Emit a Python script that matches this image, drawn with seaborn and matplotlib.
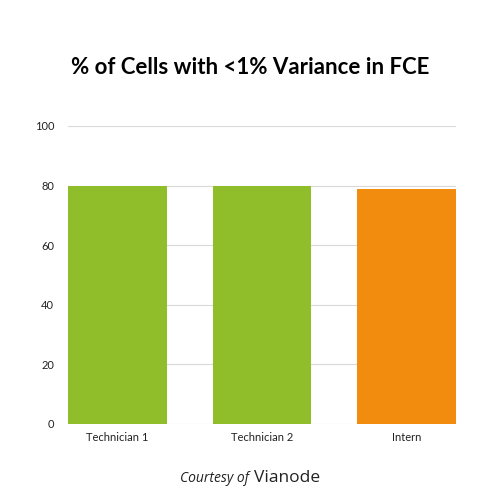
import matplotlib
matplotlib.use("Agg")
import matplotlib.pyplot as plt
import seaborn as sns
import pandas as pd

categories = ["Technician 1", "Technician 2", "Intern"]
values = [80, 80, 79]
colors = ["#8FBE2A", "#8FBE2A", "#F28C0E"]
yticks = [0, 20, 40, 60, 80, 100]

sns.set_theme(style="white")
plt.rcParams['font.family'] = ['Lato', 'DejaVu Sans']

df = pd.DataFrame({"cat": categories, "val": values})

fig = plt.figure(figsize=(5, 5), dpi=100)
ax = fig.add_axes([0.136, 0.152, 0.776, 0.596])
sns.barplot(data=df, x="cat", y="val", hue="cat", palette=colors, legend=False,
            width=0.683, ax=ax, saturation=1, linewidth=0)
ax.set_xlim(-0.3415, 2.3415)
ax.set_ylim(0, 100)
ax.set_yticks(yticks)
ax.yaxis.grid(True, color="#d9d9d9", linewidth=0.8)
ax.set_axisbelow(True)
for s in ax.spines.values():
    s.set_visible(False)
ax.set_xlabel("")
ax.set_ylabel("")
ax.tick_params(axis="both", labelsize=8, colors="#222222", length=0, pad=6)
ax.tick_params(axis="y", pad=10)

fig.text(0.5, 0.866, "% of Cells with <1% Variance in FCE", ha="center", va="center",
         fontsize=16, fontweight="bold", color="#000000")
fig.text(0.497, 0.043, "Courtesy of", ha="right", va="center", fontsize=10,
         style="italic", color="#222222", family=["Open Sans", "DejaVu Sans"])
fig.text(0.507, 0.043, "Vianode", ha="left", va="center", fontsize=12.5,
         color="#222222", family=["Open Sans", "DejaVu Sans"])

fig.savefig("out.png", dpi=100)
